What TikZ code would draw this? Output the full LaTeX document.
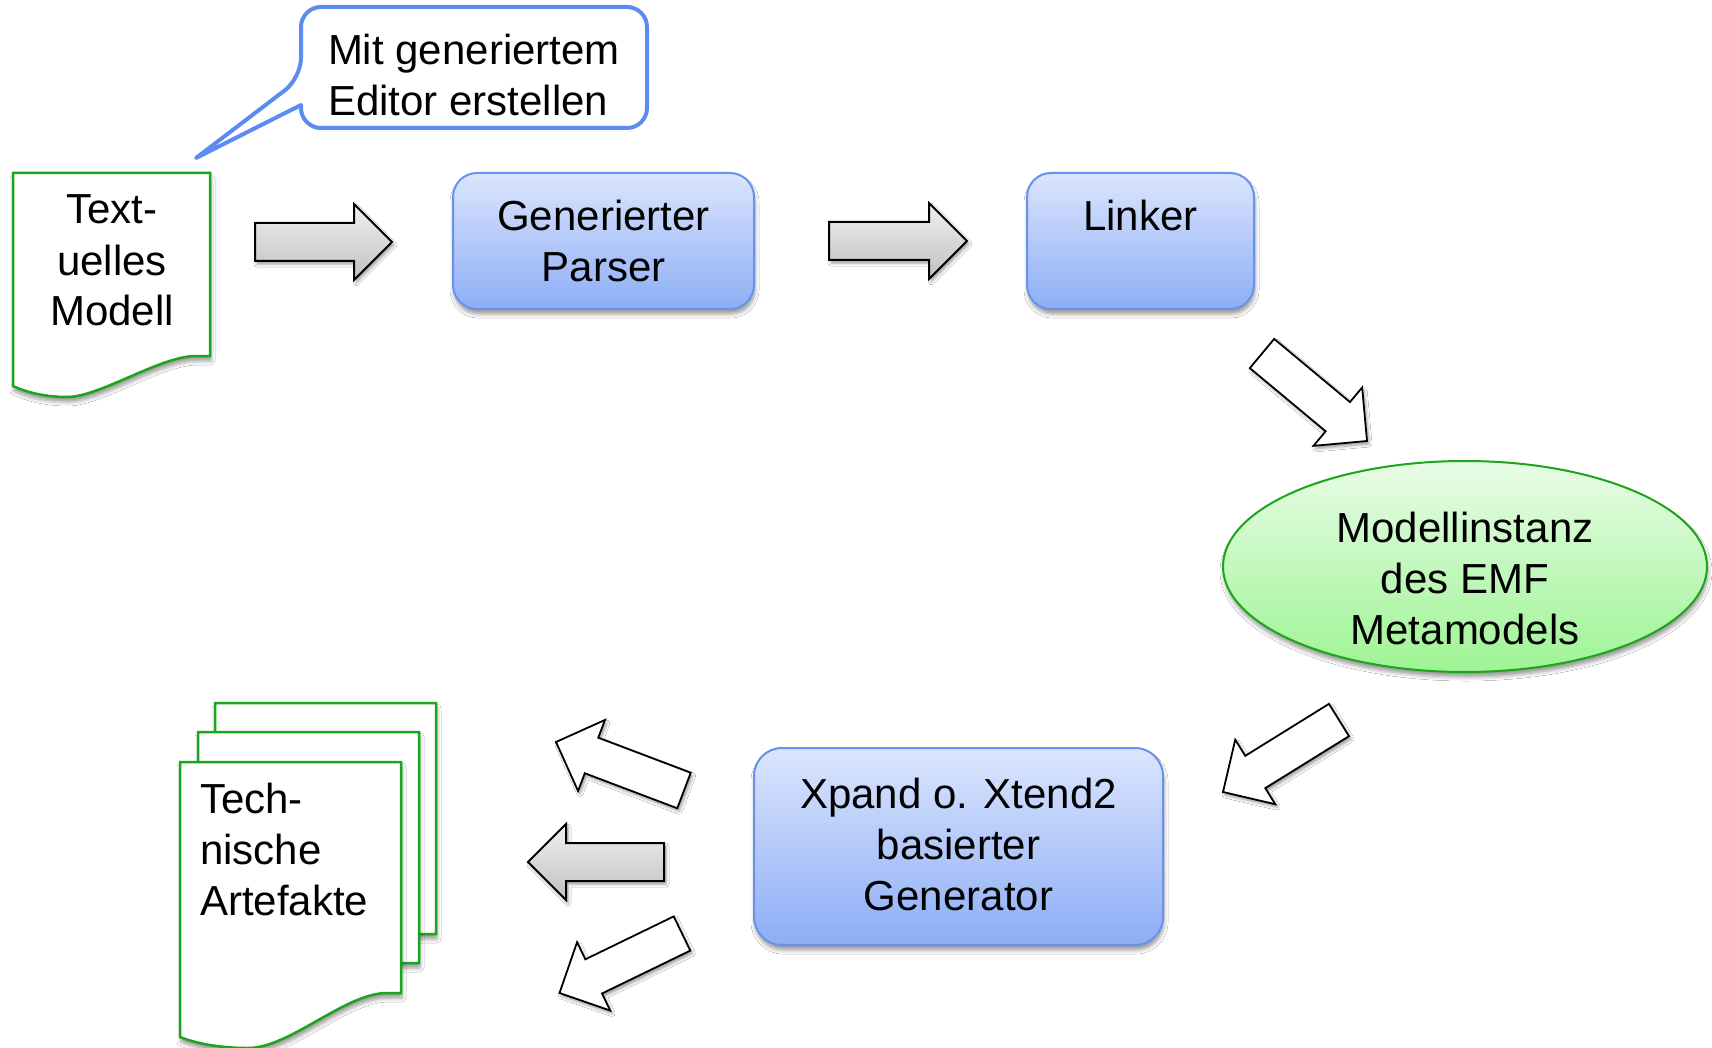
\documentclass[tikz,border=0pt]{standalone}
\usepackage{fontspec}
\setmainfont{Liberation Sans}
\usetikzlibrary{calc,shapes.geometric,shadows.blur}

\definecolor{boxtop}{RGB}{219,229,253}
\definecolor{boxbot}{RGB}{141,174,246}
\definecolor{boxline}{RGB}{104,146,236}
\definecolor{calloutline}{RGB}{92,140,240}
\definecolor{elltop}{RGB}{232,252,230}
\definecolor{ellbot}{RGB}{158,244,148}
\definecolor{greenline}{RGB}{26,165,26}
\definecolor{arrtop}{RGB}{240,240,240}
\definecolor{arrbot}{RGB}{192,192,192}

% block arrow from tail point #2 to tip point #3, drawn with style #1
\newcommand\blockarrow[3]{%
  \coordinate (#2-h) at ($(#3)!38pt!(#2)$);
  \path[#1] ($(#2)!19pt!90:(#3)$) -- ($(#2-h)!19pt!90:(#3)$)
    -- ($(#2-h)!38pt!90:(#3)$) -- (#3) -- ($(#2-h)!38pt!-90:(#3)$)
    -- ($(#2-h)!19pt!-90:(#3)$) -- ($(#2)!19pt!-90:(#3)$) -- cycle;}

\begin{document}
\begin{tikzpicture}[x=1pt,y=-1pt,
  txt/.style={font=\fontsize{42}{51}\selectfont, inner sep=0pt, outer sep=0pt},
  softshadow/.style={blur shadow={shadow xshift=1pt, shadow yshift=-5pt,
      shadow blur radius=4pt, shadow opacity=40}},
  arrshadow/.style={blur shadow={shadow xshift=2pt, shadow yshift=-3pt,
      shadow blur radius=3pt, shadow opacity=40}},
  bluebox/.style={draw=boxline, line width=2pt, rounded corners=24pt,
      top color=boxtop, bottom color=boxbot, inner sep=0pt, softshadow},
  modelell/.style={ellipse, draw=greenline, line width=2pt, inner sep=0pt,
      top color=elltop, bottom color=ellbot, softshadow},
  docpage/.style={draw=greenline, line width=2.5pt, fill=white, line join=miter, softshadow},
  callout/.style={draw=calloutline, line width=4pt, fill=white, line join=round},
  grayarrow/.style={draw=black, line width=2pt, line join=miter,
      top color=arrtop, bottom color=arrbot, arrshadow},
  whitearrow/.style={draw=black, line width=1.8pt, line join=miter,
      fill=white, arrshadow}]

\useasboundingbox (0,0) rectangle (1712,1048);
\fill[white] (0,0) rectangle (1712,1048);

% speech bubble
\draw[callout] (301,105) [rounded corners=20pt] -- (301,128) -- (647,128)
  -- (647,7) -- (301,7) -- (301,78) [sharp corners] -- (196,158) -- cycle;
\node[txt, anchor=north west, align=left] (bubbletext) at (328,29.3)
  {\strut Mit generiertem\\\strut Editor erstellen};

% textual model document
\draw[docpage] (13,173) -- (210,173) -- (210,356) -- (196,356)
  .. controls (160,356) and (100,397) .. (67,397)
  .. controls (50,397) and (30,394) .. (13,386) -- cycle;
\node[txt, anchor=north, align=center] (modeltext) at (112,188.3)
  {\strut Text-\\\strut uelles\\\strut Modell};

% processing steps
\node[bluebox, minimum width=301pt, minimum height=136pt] (parser) at (603.5,241) {};
\node[txt, anchor=north, align=center] (parsertext) at (603.5,195.3)
  {\strut Generierter\\\strut Parser};

\node[bluebox, minimum width=227pt, minimum height=136pt] (linker) at (1140.5,241) {};
\node[txt, anchor=north] (linkertext) at (1140.5,195.3) {\strut Linker};

\node[modelell, minimum width=484pt, minimum height=211pt] (instanz) at (1465,566.5) {};
\node[txt, anchor=north, align=center] (instanztext) at (1465,506.3)
  {\strut Modellinstanz\\\strut des EMF\\\strut Metamodels};

\node[bluebox, rounded corners=28pt, minimum width=409pt, minimum height=197pt]
  (generator) at (958.5,846.5) {};
\node[txt, anchor=north, align=center] (generatortext) at (958.5,772.3)
  {\strut Xpand o. Xtend2\\\strut basierter\\\strut Generator};

% stack of generated artefacts
\foreach \dx/\dy in {35/-59, 18/-30, 0/0}{
  \draw[docpage, shift={(\dx,\dy)}] (180,762) -- (401,762) -- (401,993) -- (387,993)
    .. controls (345,993) and (290,1048) .. (248,1048)
    .. controls (225,1048) and (200,1045) .. (180,1037) -- cycle;
}
\node[txt, anchor=north west, align=left] (artefakttext) at (200,777.3)
  {\strut Tech-\\\strut nische\\\strut Artefakte};

% block arrows between the steps
\coordinate (a1s) at (255,242);    \coordinate (a1e) at (392,242);
\coordinate (a2s) at (829,241);    \coordinate (a2e) at (967,241);
\coordinate (a3s) at (1262,353.5); \coordinate (a3e) at (1367,441);
\coordinate (a4s) at (1339,720);   \coordinate (a4e) at (1223,792);
\coordinate (a5s) at (684,790.5);  \coordinate (a5e) at (556,742);
\coordinate (a6s) at (664,862);    \coordinate (a6e) at (528,862);
\coordinate (a7s) at (682,933.5);  \coordinate (a7e) at (559.5,993);

\blockarrow{grayarrow}{a1s}{a1e}
\blockarrow{grayarrow}{a2s}{a2e}
\blockarrow{whitearrow}{a3s}{a3e}
\blockarrow{whitearrow}{a4s}{a4e}
\blockarrow{whitearrow}{a5s}{a5e}
\blockarrow{grayarrow}{a6s}{a6e}
\blockarrow{whitearrow}{a7s}{a7e}

\end{tikzpicture}
\end{document}
